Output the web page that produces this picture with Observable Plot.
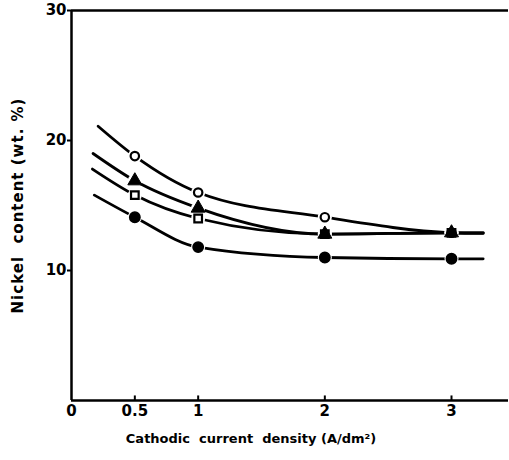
<!DOCTYPE html>
<html>
<head>
<meta charset="utf-8">
<script src="https://cdn.jsdelivr.net/npm/d3@7"></script>
<script src="https://cdn.jsdelivr.net/npm/@observablehq/plot@0.6"></script>
<style>
  html, body { margin: 0; padding: 0; background: #fff; }
  svg { display: block; }
</style>
</head>
<body>
<div id="chart"></div>
<script>
// Data
const currentDensity = [0.5, 1, 2, 3];
const openCircle   = [18.8, 16.0, 14.1, 12.9];
const triangle     = [16.9, 14.8, 12.8, 12.9];
const square       = [15.8, 14.0, 12.8, 12.9];
const filledCircle = [14.1, 11.8, 11.0, 10.9];
// where the drawn curves start and end
const curveStartX = [0.21, 0.17, 0.165, 0.18];
const curveStartY = [21.1, 19.0, 17.8, 15.8];
const curveEndX = 3.25;
const curveEndY = [12.85, 12.9, 12.9, 10.9];
const xTicks = [0, 0.5, 1, 2, 3];
const xTickLabels = ["0", "0.5", "1", "2", "3"];
const yTicks = [10, 20, 30];
const xTitle = "Cathodic  current  density (A/dm²)";
const yTitle = "Nickel  content (wt. %)";

const seriesNames = ["open", "triangle", "square", "filled"];
const seriesValues = [openCircle, triangle, square, filledCircle];

const curves = [];
seriesNames.forEach((s, i) => {
  curves.push({s, x: curveStartX[i], y: curveStartY[i]});
  currentDensity.forEach((x, j) => curves.push({s, x, y: seriesValues[i][j]}));
  curves.push({s, x: curveEndX, y: curveEndY[i]});
});
const points = [];
seriesNames.forEach((s, i) => currentDensity.forEach((x, j) => points.push({s, x, y: seriesValues[i][j]})));

const font = "'DejaVu Sans', sans-serif";
const plot = Plot.plot({
  width: 509,
  height: 460,
  marginLeft: 71,
  marginRight: 1,
  marginTop: 10,
  marginBottom: 60,
  style: {fontFamily: font, fontSize: "14px", fontWeight: "bold", color: "#000", background: "#fff"},
  x: {domain: [0, 3.45]},
  y: {domain: [0, 30]},
  marks: [
    Plot.ruleY([30], {stroke: "#000", strokeWidth: 2.5}),
    Plot.ruleY([0], {stroke: "#000", strokeWidth: 2.5}),
    Plot.ruleX([0], {stroke: "#000", strokeWidth: 2.5}),
    Plot.ruleX(xTicks.slice(1), {y1: 0, y2: 0.35, stroke: "#000", strokeWidth: 2}),
    Plot.axisY({ticks: yTicks, tickSize: 4, tickPadding: 1, label: null, fontSize: 15, fontWeight: "bold", tickFormat: d => String(d), strokeWidth: 2}),
    Plot.axisX({ticks: xTicks, tickSize: 0, tickPadding: 5, label: null, fontSize: 15, fontWeight: "bold",
      tickFormat: (d) => xTickLabels[xTicks.indexOf(d)]}),
    Plot.line(curves, {x: "x", y: "y", z: "s", curve: "monotone-x", stroke: "#000", strokeWidth: 2.8}),
    Plot.dot(points, {x: "x", y: "y", r: 7, fill: "#fff", stroke: null}),
    Plot.dot(points.filter(d => d.s === "open"), {x: "x", y: "y", r: 4.2, fill: "#fff", stroke: "#000", strokeWidth: 2.2}),
    Plot.dot(points.filter(d => d.s === "square"), {x: "x", y: "y", r: 4.3, symbol: "square", fill: "#fff", stroke: "#000", strokeWidth: 2.2}),
    Plot.dot(points.filter(d => d.s === "triangle"), {x: "x", y: "y", r: 5.2, symbol: "triangle", fill: "#000", stroke: "#000", strokeWidth: 1}),
    Plot.dot(points.filter(d => d.s === "filled"), {x: "x", y: "y", r: 5.2, fill: "#000", stroke: "#000"}),
    Plot.text([xTitle], {frameAnchor: "bottom", dy: 42, dx: -39, fontSize: 13, fontWeight: "bold"}),
    Plot.text([yTitle], {frameAnchor: "left", dx: -53, rotate: -90, textAnchor: "middle", fontSize: 15, fontWeight: "bold"})
  ]
});
d3.select(plot).selectAll("text").filter(function() { return this.textContent === yTitle; })
  .style("letter-spacing", "1px");
document.getElementById("chart").appendChild(plot);
</script>
</body>
</html>
